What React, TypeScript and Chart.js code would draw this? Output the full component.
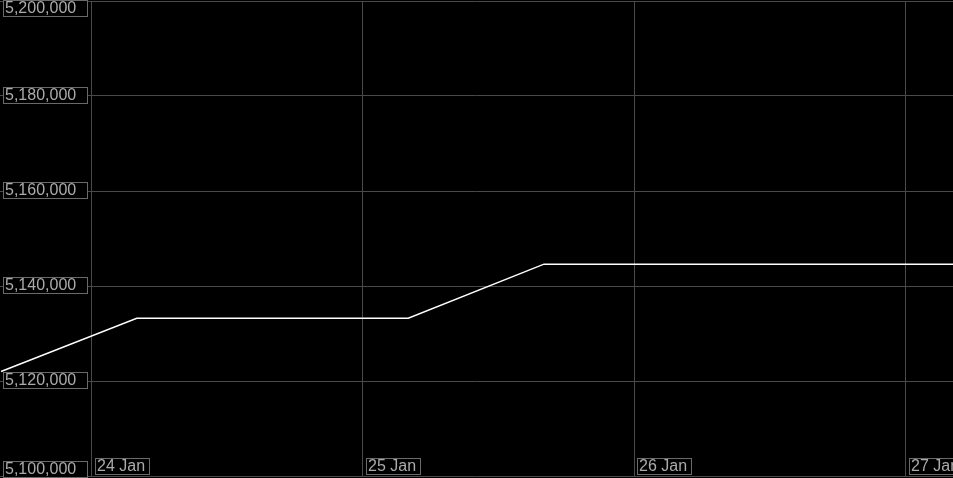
import React, { useEffect, useRef } from "react";
import { Chart, registerables } from "chart.js";

Chart.register(...registerables);

// hours relative to 24 Jan 00:00
const sampleHours = [-8, 4, 16, 28, 40, 52, 64, 76, 88];
const sampleValues = [5122000, 5133200, 5133200, 5133200, 5144600, 5144600, 5144600, 5144600, 5144600];
const xTickHours = [0, 24, 48, 72];
const xTickLabels = ["24 Jan", "25 Jan", "26 Jan", "27 Jan"];
const yTickValues = [5100000, 5120000, 5140000, 5160000, 5180000, 5200000];

const FONT = '16px "Liberation Sans", Arial, sans-serif';
const TEXT_COLOR = "#ababab";
const BOX_COLOR = "#6a6a6a";
const GRID_COLOR = "#4a4a4a";

const boxLabels = {
  id: "boxLabels",
  afterDatasetsDraw(chart: any) {
    const ctx = chart.ctx as CanvasRenderingContext2D;
    const xs = chart.scales.x;
    const ys = chart.scales.y;
    const H = chart.height;
    ctx.save();
    ctx.font = FONT;
    ctx.textBaseline = "middle";
    ctx.lineWidth = 1;
    yTickValues.forEach((v) => {
      const py = ys.getPixelForValue(v);
      let top = Math.round(py) - 9;
      top = Math.max(0, Math.min(H - 17, top));
      ctx.fillStyle = "#000";
      ctx.fillRect(3, top, 85, 17);
      ctx.strokeStyle = BOX_COLOR;
      ctx.strokeRect(3.5, top + 0.5, 84, 16);
      ctx.fillStyle = TEXT_COLOR;
      ctx.fillText(v.toLocaleString("en-US"), 5, top + 9);
    });
    xTickHours.forEach((h, i) => {
      const px = Math.round(xs.getPixelForValue(h));
      const label = xTickLabels[i];
      const w = Math.ceil(ctx.measureText(label).width) + 6;
      const left = px + 3;
      const top = 458;
      ctx.fillStyle = "#000";
      ctx.fillRect(left, top, w, 17);
      ctx.strokeStyle = BOX_COLOR;
      ctx.strokeRect(left + 0.5, top + 0.5, w - 1, 16);
      ctx.fillStyle = TEXT_COLOR;
      ctx.fillText(label, left + 2, top + 9);
    });
    ctx.restore();
  },
};

export default function App() {
  const ref = useRef<HTMLCanvasElement | null>(null);
  useEffect(() => {
    document.body.style.margin = "0";
    document.body.style.background = "#000";
    const canvas = ref.current!;
    const chart = new Chart(canvas, {
      type: "line",
      data: {
        datasets: [
          {
            data: sampleHours.map((h, i) => ({ x: h, y: sampleValues[i] })),
            borderColor: "#ffffff",
            borderWidth: 1.5,
            pointRadius: 0,
            tension: 0,
            fill: false,
          },
        ],
      },
      options: {
        animation: false,
        responsive: false,
        events: [],
        layout: { padding: { top: 1, bottom: 2, left: 0, right: 0 } },
        plugins: { legend: { display: false }, tooltip: { enabled: false } },
        scales: {
          x: {
            type: "linear",
            min: -8.09,
            max: 76.16,
            afterBuildTicks: (axis: any) => {
              axis.ticks = xTickHours.map((v) => ({ value: v }));
            },
            ticks: { display: false },
            grid: { color: GRID_COLOR, drawTicks: false, lineWidth: 1 },
            border: { display: false },
          },
          y: {
            min: 5100000,
            max: 5200000,
            afterBuildTicks: (axis: any) => {
              axis.ticks = yTickValues.map((v) => ({ value: v }));
            },
            ticks: { display: false },
            grid: { color: GRID_COLOR, drawTicks: false, lineWidth: 1 },
            border: { display: false },
          },
        },
      },
      plugins: [boxLabels],
    });
    return () => chart.destroy();
  }, []);
  return (
    <div style={{ width: 953, height: 478, background: "#000" }}>
      <canvas ref={ref} width={953} height={478} style={{ display: "block" }} />
    </div>
  );
}
